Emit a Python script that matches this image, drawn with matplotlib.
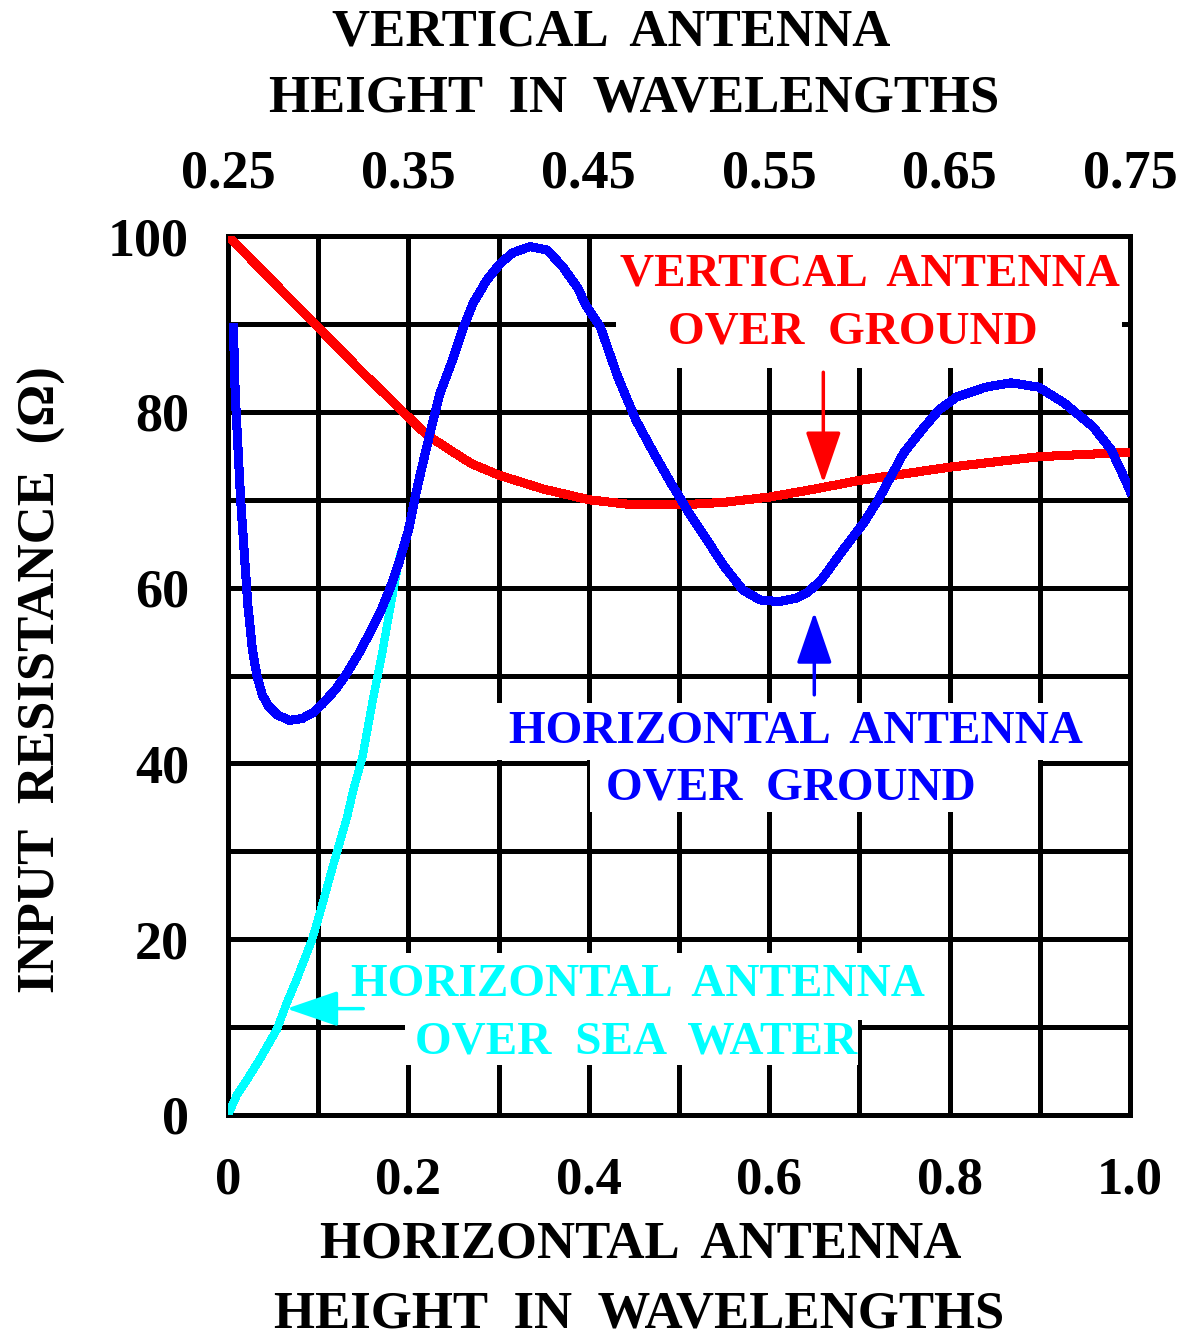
import numpy as np
import matplotlib
matplotlib.use("Agg")
from matplotlib import pyplot as plt
from matplotlib.patches import Rectangle

plt.rcParams['font.family'] = ['Liberation Serif', 'DejaVu Serif']
plt.rcParams['font.weight'] = 'bold'

# vertical antenna over ground (red)
vert_x = [0, 0.05, 0.1, 0.15, 0.2, 0.22, 0.25, 0.27, 0.3, 0.35, 0.4, 0.45, 0.5,
          0.55, 0.6, 0.65, 0.7, 0.8, 0.9, 1.0]
vert_r = [100, 94.8, 89.6, 84.4, 79.4, 77.4, 75.4, 74.1, 72.8, 71.2, 70.0, 69.4,
          69.4, 69.7, 70.3, 71.2, 72.2, 73.7, 74.9, 75.4]

# horizontal antenna over ground (blue)
horg_x = [0.006, 0.008, 0.011, 0.014, 0.018, 0.022, 0.027, 0.032, 0.038, 0.045,
          0.055, 0.068, 0.082, 0.095, 0.105, 0.12, 0.132, 0.145, 0.158, 0.17,
          0.18, 0.19, 0.2, 0.21, 0.224, 0.235, 0.249, 0.261, 0.272, 0.287,
          0.302, 0.316, 0.335, 0.354, 0.371, 0.387, 0.398, 0.413, 0.432, 0.452,
          0.472, 0.491, 0.511, 0.531, 0.551, 0.571, 0.59, 0.611, 0.63, 0.642,
          0.658, 0.682, 0.705, 0.721, 0.749, 0.769, 0.788, 0.808, 0.84, 0.868,
          0.899, 0.927, 0.959, 0.979, 0.995, 1.0]
horg_r = [89.6, 82, 76, 70, 64, 58, 53, 50, 47.8, 46.5, 45.5, 44.9, 45.1, 45.8,
          46.8, 48.5, 50.3, 52.5, 55, 57.5, 60, 63, 66.5, 71.5, 77.6, 82.1, 85.9,
          89.6, 92.4, 95, 96.9, 98.1, 98.8, 98.4, 96.5, 94.2, 91.9, 89.6, 84,
          79.1, 75.3, 71.9, 68.5, 65.4, 62.3, 59.7, 58.6, 58.4, 58.8, 59.4, 60.9,
          64.3, 67.4, 70, 75.3, 77.9, 80.2, 81.7, 82.8, 83.3, 82.8, 81, 78.3,
          75.7, 72.2, 71]

# horizontal antenna over sea water (cyan)
sea_x = [0, 0.010, 0.021, 0.035, 0.054, 0.065, 0.076, 0.093, 0.102, 0.116,
         0.132, 0.139, 0.149, 0.160, 0.171, 0.180, 0.188, 0.191]
sea_r = [0, 2.3, 4.0, 6.3, 9.7, 12.7, 15.4, 19.9, 23, 28.2, 33.9, 37, 40.7,
         46.9, 52.6, 57.8, 62.3, 63.7]

bottom_ticks = [0, 0.2, 0.4, 0.6, 0.8, 1.0]
bottom_labels = ['0', '0.2', '0.4', '0.6', '0.8', '1.0']
top_labels = ['0.25', '0.35', '0.45', '0.55', '0.65', '0.75']
y_ticks = [0, 20, 40, 60, 80, 100]

W, H = 1192, 1338
fig = plt.figure(figsize=(W / 100, H / 100), dpi=100)
ax = fig.add_axes([228 / W, 1 - 1115 / H, (1130 - 228) / W, (1115 - 236) / H])
ax.set_xlim(0, 1)
ax.set_ylim(0, 100)

# grid every 0.1 / 10
ax.set_xticks(bottom_ticks)
ax.set_xticklabels(bottom_labels)
ax.set_xticks(np.arange(0, 1.01, 0.1), minor=True)
ax.set_yticks(y_ticks)
ax.set_yticks(np.arange(0, 101, 10), minor=True)
ax.grid(which='both', color='black', linewidth=3.6, antialiased=False)
ax.set_axisbelow(True)
ax.tick_params(which='both', length=0)
ax.tick_params(axis='x', pad=30, labelsize=38)
ax.tick_params(axis='y', pad=28, labelsize=39)
for s in ax.spines.values():
    s.set_linewidth(3.6)

top = ax.secondary_xaxis('top')
top.set_xticks(bottom_ticks)
top.set_xticklabels(top_labels)
top.tick_params(length=0, pad=26, labelsize=39)
top.spines['top'].set_visible(False)

# white boxes behind labels that cut the grid
boxes = [(0.430, 85.0, 0.561, 15.0),
         (0.296, 40.4, 0.671, 6.5), (0.401, 34.5, 0.497, 6.0),
         (0.119, 10.8, 0.676, 7.6), (0.196, 5.7, 0.502, 5.1)]
for bx, by, bw, bh in boxes:
    ax.add_patch(Rectangle((bx, by), bw, bh, facecolor='white',
                           edgecolor='none', zorder=1.5))

ax.plot(vert_x, vert_r, color='#ff0000', linewidth=5.8, zorder=3,
        antialiased=False)
ax.plot(horg_x, horg_r, color='#0000ff', linewidth=5.8, zorder=4,
        antialiased=False)
ax.plot(sea_x, sea_r, color='#00ffff', linewidth=5.2, zorder=3,
        antialiased=False)

fs = 34
ax.text(0.712, 95.6, 'VERTICAL  ANTENNA', color='#ff0000', fontsize=fs,
        ha='center', va='center', zorder=5)
ax.text(0.693, 89.0, 'OVER  GROUND', color='#ff0000', fontsize=fs,
        ha='center', va='center', zorder=5)
ax.text(0.630, 43.6, 'HORIZONTAL  ANTENNA', color='#0000ff', fontsize=fs,
        ha='center', va='center', zorder=5)
ax.text(0.624, 37.1, 'OVER  GROUND', color='#0000ff', fontsize=fs,
        ha='center', va='center', zorder=5)
ax.text(0.455, 14.8, 'HORIZONTAL  ANTENNA', color='#00ffff', fontsize=fs,
        ha='center', va='center', zorder=5)
ax.text(0.452, 8.3, 'OVER  SEA  WATER', color='#00ffff', fontsize=fs,
        ha='center', va='center', zorder=5)

arrow = '-|>,head_length=1.6,head_width=0.55'
ax.annotate('', xy=(0.660, 71.9), xytext=(0.660, 84.5),
            arrowprops=dict(arrowstyle=arrow, color='#ff0000', lw=2.5,
                            mutation_scale=20, shrinkA=0, shrinkB=0), zorder=5)
ax.annotate('', xy=(0.650, 57.2), xytext=(0.650, 47.8),
            arrowprops=dict(arrowstyle=arrow, color='#0000ff', lw=2.5,
                            mutation_scale=20, shrinkA=0, shrinkB=0), zorder=5)
ax.annotate('', xy=(0.065, 12.1), xytext=(0.150, 12.1),
            arrowprops=dict(arrowstyle=arrow, color='#00ffff', lw=2.5,
                            mutation_scale=20, shrinkA=0, shrinkB=0), zorder=5)

tfs = 38
fig.text(611 / W, 1 - 32 / H, 'VERTICAL  ANTENNA', fontsize=tfs,
         ha='center', va='center')
fig.text(634 / W, 1 - 98 / H, 'HEIGHT  IN  WAVELENGTHS', fontsize=tfs,
         ha='center', va='center')
fig.text(641 / W, 1 - 1245 / H, 'HORIZONTAL  ANTENNA', fontsize=tfs,
         ha='center', va='center')
fig.text(639 / W, 1 - 1315 / H, 'HEIGHT  IN  WAVELENGTHS', fontsize=tfs,
         ha='center', va='center')
fig.text(42 / W, 1 - 680 / H, 'INPUT  RESISTANCE  (\u03a9)', fontsize=tfs,
         ha='center', va='center', rotation=90)

fig.savefig('out.png', dpi=100, facecolor='white')
